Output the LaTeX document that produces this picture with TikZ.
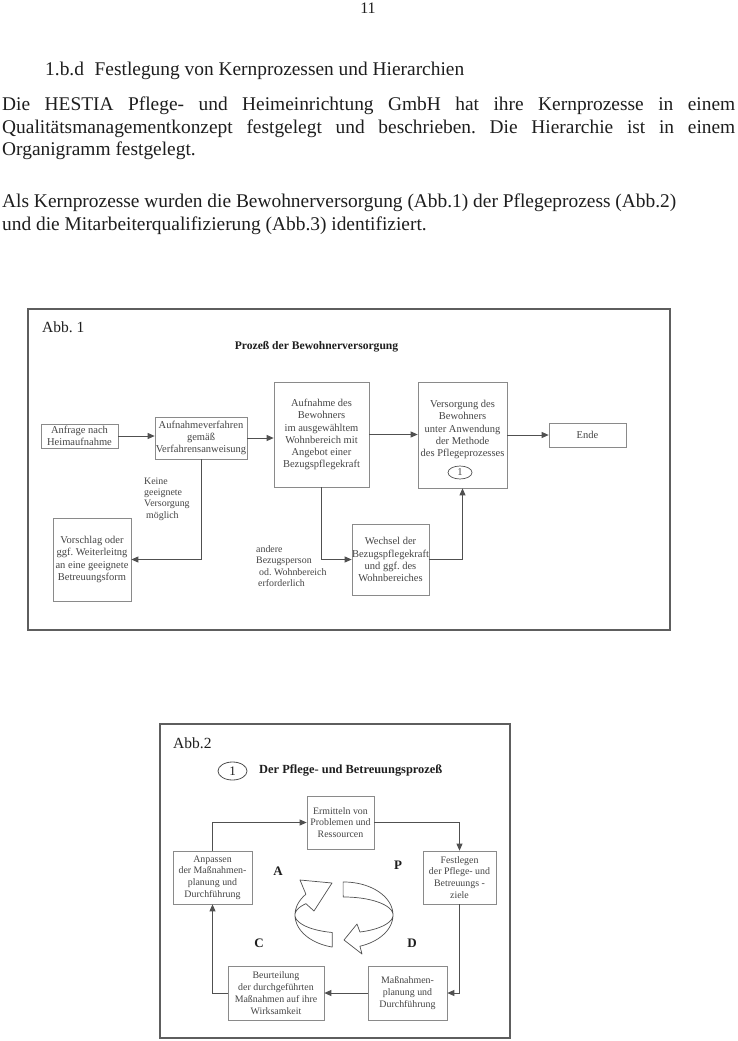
\documentclass[tikz,border=0pt]{standalone}
\usepackage{fontspec}
\setmainfont{Liberation Serif}
\usetikzlibrary{arrows.meta,calc,shapes.geometric}
\definecolor{boxgray}{HTML}{8A8A8A}
\definecolor{framegray}{HTML}{5E5E5E}
\definecolor{txtgray}{HTML}{454545}
\definecolor{linegray}{HTML}{505050}
\definecolor{bodytxt}{HTML}{1E1E1E}
\newcommand\mybodyfont{\fontsize{19.4}{23}\selectfont}
\newcommand\myboxfont{\fontsize{10.5}{12.1}\selectfont}
\newcommand\myboxfontb{\fontsize{9.9}{11.8}\selectfont}
\newcommand\mylabfont{\fontsize{9.9}{11.3}\selectfont}
\frenchspacing
\begin{document}
\begin{tikzpicture}[x=1pt,y=-1pt,
  bodyline/.style={anchor=base west, inner sep=0pt, font=\mybodyfont, text=bodytxt},
  frame/.style={draw=framegray, line width=1.3pt},
  box/.style={draw=boxgray, line width=0.7pt, inner sep=0pt, align=center, text=txtgray, font=\myboxfont},
  boxb/.style={box, font=\myboxfontb},
  lab/.style={inner sep=0pt, align=left, text=txtgray, font=\mylabfont},
  conn/.style={draw=linegray, line width=0.8pt, -{Triangle[length=7pt,width=6pt]}},
  pdca/.style={inner sep=0pt, font=\fontsize{13}{15}\selectfont\bfseries, text=bodytxt},
  ribbon/.style={draw=linegray, line width=0.7pt, fill=white, line join=round}]
\useasboundingbox (0,0) rectangle (737,1041);
\fill[white] (0,0) rectangle (737,1041);

% ---------- page text ----------
\node[anchor=base, inner sep=0pt, font=\fontsize{16}{18}\selectfont, text=bodytxt] (pagenum) at (368,14) {11};
\node[bodyline] (heading) at (45,76) {1.b.d\hspace{0.55em}Festlegung von Kernprozessen und Hierarchien};
\node[bodyline] (p1) at (2,110) {\makebox[733pt][s]{Die HESTIA Pflege- und Heimeinrichtung GmbH hat ihre Kernprozesse in einem}};
\node[bodyline] (p2) at (2,133) {\makebox[733pt][s]{Qualitätsmanagementkonzept festgelegt und beschrieben. Die Hierarchie ist in einem}};
\node[bodyline] (p3) at (2,155) {Organigramm festgelegt.};
\node[bodyline] (p4) at (2,207) {Als Kernprozesse wurden die Bewohnerversorgung (Abb.1) der Pflegeprozess (Abb.2)};
\node[bodyline] (p5) at (2,230) {und die Mitarbeiterqualifizierung (Abb.3) identifiziert.};

% ---------- Abb. 1 ----------
\draw[frame] (28,309) rectangle (670,630);
\node[anchor=base west, inner sep=0pt, font=\fontsize{15.5}{18}\selectfont, text=bodytxt] (abb1) at (42,332) {Abb. 1};
\node[inner sep=0pt, font=\fontsize{11.6}{14}\selectfont\bfseries, text=bodytxt] (title1) at (316.5,347) {Prozeß der Bewohnerversorgung};

\node[box, minimum width=77pt, minimum height=24pt] (anfrage) at (79.5,436) {Anfrage nach\\Heimaufnahme};
\node[box, minimum width=92pt, minimum height=42pt] (verfahren) at (201,438) {Aufnahmeverfahren\\gemäß\\Verfahrensanweisung};
\node[box, minimum width=95pt, minimum height=105pt] (aufnahme) at (321.5,434.5) {Aufnahme des\\Bewohners\\im ausgewähltem\\Wohnbereich mit\\Angebot einer\\Bezugspflegekraft};
\node[box, minimum width=89pt, minimum height=106pt] (versorgung) at (462.5,435) {};
\node[inner sep=0pt, align=center, text=txtgray, font=\myboxfont] (versorgungtxt) at (462.5,429.5) {Versorgung des\\Bewohners\\unter Anwendung\\der Methode\\des Pflegeprozesses};
\node[draw=linegray, line width=0.7pt, ellipse, inner sep=0pt, minimum width=24pt, minimum height=13pt, font=\myboxfont, text=txtgray] (vers1) at (460,472.5) {1};
\node[box, minimum width=77pt, minimum height=24pt] (ende) at (587.5,435) {Ende};
\node[box, minimum width=78pt, minimum height=83pt] (vorschlag) at (92,559.5) {Vorschlag oder\\ggf. Weiterleitng\\an eine geeignete\\Betreuungsform};
\node[box, minimum width=77pt, minimum height=71pt] (wechsel) at (390.5,559.5) {Wechsel der\\Bezugspflegekraft\\und ggf. des\\Wohnbereiches};

\node[lab, anchor=west] (keine) at (144,499) {Keine\\geeignete\\Versorgung\\\hspace{2pt}möglich};
\node[lab, anchor=west] (andere) at (256,566) {andere\\Bezugsperson\\\hspace{3pt}od. Wohnbereich\\\hspace{2pt}erforderlich};

\draw[conn] (anfrage.east) -- (anfrage.east -| verfahren.west);
\draw[conn] (verfahren.east) -- (verfahren.east -| aufnahme.west);
\draw[conn] (aufnahme.east) -- (aufnahme.east -| versorgung.west);
\draw[conn] (versorgung.east) -- (versorgung.east -| ende.west);
\draw[conn] (verfahren.south) |- (vorschlag.east);
\draw[conn] (aufnahme.south) |- (wechsel.west);
\draw[conn] (wechsel.east) -| (versorgung.south);

% ---------- Abb. 2 ----------
\draw[frame] (160,724) rectangle (510,1038);
\node[anchor=base west, inner sep=0pt, font=\fontsize{15.5}{18}\selectfont, text=bodytxt] (abb2) at (173,748) {Abb.2};
\node[draw=linegray, line width=0.8pt, ellipse, inner sep=0pt, minimum width=29pt, minimum height=18pt, font=\fontsize{13}{15}\selectfont, text=bodytxt] (one2) at (232.5,771) {1};
\node[inner sep=0pt, font=\fontsize{12.4}{14}\selectfont\bfseries, text=bodytxt, anchor=west] (title2) at (259,770) {Der Pflege- und Betreuungsprozeß};

\node[boxb, minimum width=67pt, minimum height=53pt] (ermitteln) at (340.5,822.5) {Ermitteln von\\Problemen und\\Ressourcen};
\node[boxb, minimum width=73pt, minimum height=53pt] (festlegen) at (459.5,877.5) {Festlegen\\der Pflege- und\\Betreuungs -\\ziele};
\node[boxb, minimum width=79pt, minimum height=54pt] (massnahmen) at (407.5,993) {Maßnahmen-\\planung und\\Durchführung};
\node[boxb, minimum width=96pt, minimum height=54pt] (beurteilung) at (276,993) {Beurteilung\\der durchgeführten\\Maßnahmen auf ihre\\Wirksamkeit};
\node[boxb, minimum width=79pt, minimum height=53pt] (anpassen) at (212.5,877.5) {Anpassen\\der Maßnahmen-\\planung und\\Durchführung};

\draw[conn] (anpassen.north) |- (ermitteln.west);
\draw[conn] (ermitteln.east) -| (festlegen.north);
\draw[conn] (festlegen.south) |- (massnahmen.east);
\draw[conn] (massnahmen.west) -- (beurteilung.east);
\draw[conn] (beurteilung.west) -| (anpassen.south);

\node[pdca] (lA) at (278,871) {A};
\node[pdca] (lP) at (398,865) {P};
\node[pdca] (lC) at (259,943) {C};
\node[pdca] (lD) at (412,943) {D};

% circular ribbon arrows
\draw[ribbon] plot[domain=256:141,samples=50] ({344+49*cos(\x)},{915-33*sin(\x)})
   -- (300,880) -- (332,883) -- (314,911)
   -- plot[domain=141:256,samples=50] ({344+49*cos(\x)},{915-18*sin(\x)}) -- cycle;
\draw[ribbon] plot[domain=91:-71,samples=50] ({344+49*cos(\x)},{915-33*sin(\x)})
   -- (362,954) -- (344,940) -- (357,924)
   -- plot[domain=-71:91,samples=50] ({344+49*cos(\x)},{915-18*sin(\x)}) -- cycle;
\end{tikzpicture}
\end{document}
